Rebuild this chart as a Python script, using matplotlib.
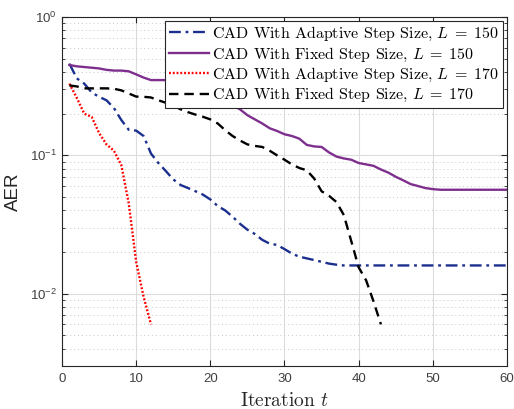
import matplotlib
matplotlib.use("Agg")
import matplotlib.pyplot as plt
import numpy as np
from matplotlib.ticker import LogLocator, NullFormatter

plt.rcParams['mathtext.fontset'] = 'cm'
plt.rcParams['axes.unicode_minus'] = False
plt.rcParams['font.family'] = ['Liberation Sans', 'DejaVu Sans']

t_blue = list(range(1, 61))
aer_blue = [0.46, 0.36, 0.33, 0.285, 0.265, 0.25, 0.22, 0.18, 0.153, 0.151,
            0.138, 0.103, 0.088, 0.077, 0.067, 0.061, 0.058, 0.055, 0.052, 0.048,
            0.043, 0.040, 0.036, 0.032, 0.029, 0.027, 0.0245, 0.023, 0.0225, 0.021,
            0.0195, 0.0185, 0.018, 0.0175, 0.017, 0.0165, 0.0162, 0.016, 0.016, 0.016,
            0.016, 0.016, 0.016, 0.016, 0.016, 0.016, 0.016, 0.016, 0.016, 0.016,
            0.016, 0.016, 0.016, 0.016, 0.016, 0.016, 0.016, 0.016, 0.016, 0.016]

t_purple = list(range(1, 61))
aer_purple = [0.45, 0.44, 0.435, 0.43, 0.425, 0.415, 0.41, 0.41, 0.405, 0.385,
              0.365, 0.35, 0.35, 0.35, 0.345, 0.33, 0.31, 0.29, 0.275, 0.26,
              0.25, 0.24, 0.23, 0.215, 0.195, 0.182, 0.17, 0.157, 0.15, 0.142,
              0.138, 0.132, 0.119, 0.116, 0.115, 0.105, 0.098, 0.095, 0.093, 0.088,
              0.086, 0.084, 0.079, 0.075, 0.070, 0.066, 0.062, 0.060, 0.058, 0.057,
              0.0564, 0.0564, 0.0564, 0.0564, 0.0564, 0.0564, 0.0564, 0.0564, 0.0564, 0.0564]

t_red = list(range(1, 13))
aer_red = [0.33, 0.26, 0.20, 0.19, 0.145, 0.12, 0.108, 0.085, 0.045, 0.017, 0.0095, 0.006]

t_black = list(range(1, 44))
aer_black = [0.32, 0.315, 0.305, 0.305, 0.305, 0.305, 0.303, 0.295, 0.28, 0.266,
             0.265, 0.262, 0.25, 0.24, 0.23, 0.215, 0.205, 0.197, 0.19, 0.182,
             0.17, 0.152, 0.138, 0.128, 0.12, 0.117, 0.115, 0.108, 0.10, 0.093,
             0.086, 0.081, 0.078, 0.068, 0.055, 0.051, 0.046, 0.037, 0.024, 0.0155,
             0.0125, 0.0088, 0.006]

labels = [r"CAD With Adaptive Step Size, $L\;=\;150$",
          r"CAD With Fixed Step Size, $L\;=\;150$",
          r"CAD With Adaptive Step Size, $L\;=\;170$",
          r"CAD With Fixed Step Size, $L\;=\;170$"]

fig = plt.figure(figsize=(5.14, 4.09), dpi=100)
ax = fig.add_axes([0.1206, 0.1051, 0.8658, 0.8533])

lw = 1.7
ax.plot(t_blue, aer_blue, color='#1b2f8f', linestyle=(0, (5, 2, 1.2, 2)), lw=lw, label=labels[0])
ax.plot(t_purple, aer_purple, color='#7E2F8E', linestyle='-', lw=lw, label=labels[1])
ax.plot(t_red, aer_red, color='#ff0000', linestyle=(0, (0.8, 0.8)), lw=lw, label=labels[2])
ax.plot(t_black, aer_black, color='black', linestyle=(0, (4, 2.5)), lw=lw, label=labels[3])

ax.set_yscale('log')
ax.set_xlim(0, 60)
ax.set_ylim(3e-3, 1)
ax.set_xticks([0, 10, 20, 30, 40, 50, 60])
ax.yaxis.set_major_locator(LogLocator(base=10, numticks=10))
ax.yaxis.set_minor_locator(LogLocator(base=10, subs=np.arange(2, 10), numticks=20))
ax.yaxis.set_minor_formatter(NullFormatter())

ax.grid(True, which='major', color='#dcdcdc', linestyle='-', lw=0.8)
ax.grid(True, which='minor', axis='y', color='#c8c8c8', linestyle=(0, (1, 3)), lw=0.7)
ax.set_axisbelow(True)

ax.tick_params(which='both', direction='in', top=True, right=True, labelsize=9.5,
               colors='#262626', labelcolor='#404040')
ax.tick_params(which='major', length=4)
ax.tick_params(which='minor', length=2.5)
ax.tick_params(axis='x', pad=5)
for sp in ax.spines.values():
    sp.set_color('#262626')
    sp.set_linewidth(0.8)

ax.set_ylabel('AER', fontsize=13.5, color='#262626', labelpad=6)
ax.set_xlabel('Iteration $t$', fontsize=14, family='cmr10', color='#262626', labelpad=5)

leg = ax.legend(loc='upper right', prop={'family': 'cmr10', 'size': 11.5},
                handlelength=2.5, handletextpad=0.2, labelspacing=0.15,
                borderpad=0.25, borderaxespad=0.25, fancybox=False, framealpha=1,
                edgecolor='#262626')
leg.get_frame().set_linewidth(0.8)

fig.savefig('out.png', dpi=100)
